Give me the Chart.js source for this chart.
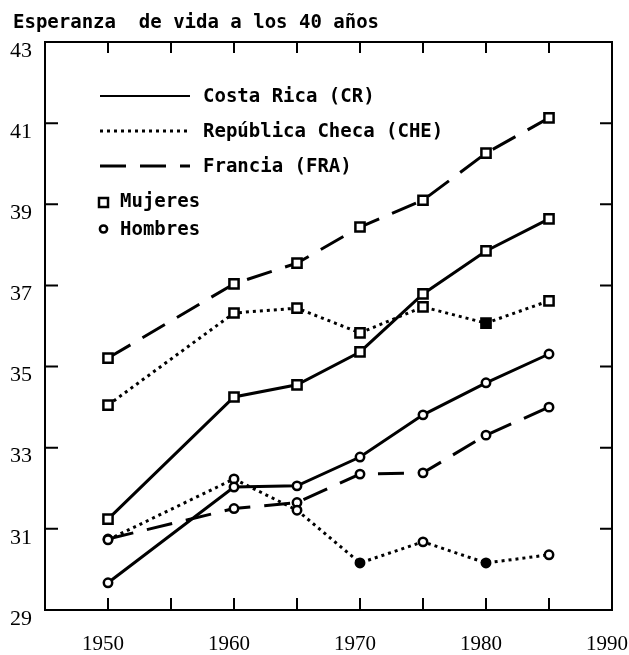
<!DOCTYPE html>
<html>
<head>
<meta charset="utf-8">
<script src="https://cdn.jsdelivr.net/npm/chart.js@4"></script>
<style>
  body { margin: 0; background: #fff; }
  #wrap { width: 629px; height: 655px; position: relative; }
</style>
</head>
<body>
<div id="wrap"><canvas id="grafica"></canvas></div>
<script>
// Esperanza de vida a los 40 años, por sexo
const anios = [1950, 1960, 1965, 1970, 1975, 1980, 1985]
const crMujeres = [31.24, 34.25, 34.55, 35.36, 36.79, 37.85, 38.64]
const crHombres = [29.67, 32.03, 32.06, 32.77, 33.81, 34.60, 35.31]
const cheMujeres = [34.05, 36.32, 36.44, 35.83, 36.47, 36.07, 36.62]
const cheHombres = [30.73, 32.23, 31.46, 30.16, 30.68, 30.16, 30.36]
const fraMujeres = [35.21, 37.04, 37.55, 38.44, 39.10, 40.26, 41.13]
const fraHombres = [30.75, 31.50, 31.65, 32.35, 32.38, 33.31, 34.00]

const ticksX = [1950, 1960, 1970, 1980, 1990]
const ticksY = [29, 31, 33, 35, 37, 39, 41, 43]
const marcasX = [1950, 1955, 1960, 1965, 1970, 1975, 1980, 1985]

const titulo = 'Esperanza  de vida a los 40 años'
const paises = ['Costa Rica (CR)', 'República Checa (CHE)', 'Francia (FRA)']
const sexos = ['Mujeres', 'Hombres']

const MONO = '"DejaVu Sans Mono", monospace'
const SERIF = '"Liberation Serif", "DejaVu Serif", serif'

const puntos = vals => vals.map((v, i) => ({x: anios[i], y: v}))

function serie(vals, dash, forma, rellenos) {
    return {
        data: puntos(vals),
        borderColor: '#000',
        borderWidth: 3,
        borderDash: dash,
        borderCapStyle: 'butt',
        tension: 0,
        pointStyle: forma,
        pointRadius: forma === 'rect' ? 6.5 : 4.2,
        pointBorderWidth: 2.5,
        pointBorderColor: '#000',
        pointBackgroundColor: rellenos || '#fff',
        pointHoverRadius: 5
    }
}

// caja, marcas hacia adentro, titulo y leyenda
const extras = {
    id: 'extras',
    afterDraw(chart) {
        const ctx = chart.ctx
        const a = chart.chartArea
        const sx = chart.scales.x
        const sy = chart.scales.y
        ctx.save()
        ctx.strokeStyle = '#000'
        ctx.lineWidth = 2
        ctx.setLineDash([])
        ctx.strokeRect(a.left, a.top, a.right - a.left, a.bottom - a.top)
        ctx.beginPath()
        marcasX.forEach(v => {
            const px = sx.getPixelForValue(v)
            ctx.moveTo(px, a.bottom); ctx.lineTo(px, a.bottom - 12)
            ctx.moveTo(px, a.top); ctx.lineTo(px, a.top + 11)
        })
        ticksY.slice(1, -1).forEach(v => {
            const py = sy.getPixelForValue(v)
            ctx.moveTo(a.left, py); ctx.lineTo(a.left + 13, py)
            ctx.moveTo(a.right, py); ctx.lineTo(a.right - 12, py)
        })
        ctx.stroke()

        ctx.fillStyle = '#000'
        ctx.font = 'bold 19px ' + MONO
        ctx.textAlign = 'left'
        ctx.textBaseline = 'alphabetic'
        ctx.fillText(titulo, 13, 28)

        // leyenda de paises
        const dashes = [[], [3, 4], [26, 14]]
        const filas = [102, 137, 172]
        paises.forEach((t, i) => {
            ctx.beginPath()
            ctx.lineWidth = i === 0 ? 2 : 3
            ctx.setLineDash(dashes[i])
            ctx.moveTo(100, filas[i] - 6)
            ctx.lineTo(190, filas[i] - 6)
            ctx.stroke()
            ctx.setLineDash([])
            ctx.fillText(t, 203, filas[i])
        })
        // leyenda de sexos
        ctx.lineWidth = 2.5
        ctx.fillStyle = '#fff'
        ctx.fillRect(99, 198, 9, 9)
        ctx.strokeRect(99, 198, 9, 9)
        ctx.beginPath()
        ctx.arc(103.5, 229, 3.6, 0, Math.PI * 2)
        ctx.fill()
        ctx.stroke()
        ctx.fillStyle = '#000'
        ctx.fillText(sexos[0], 120, 207)
        ctx.fillText(sexos[1], 120, 235)
        ctx.restore()
    }
}

new Chart(document.getElementById('grafica'), {
    type: 'line',
    data: {
        datasets: [
            serie(crMujeres, [], 'rect'),
            serie(crHombres, [], 'circle'),
            serie(cheMujeres, [3, 4], 'rect', ['#fff', '#fff', '#fff', '#fff', '#fff', '#000', '#fff']),
            serie(cheHombres, [3, 4], 'circle', ['#fff', '#fff', '#fff', '#000', '#fff', '#000', '#fff']),
            serie(fraMujeres, [26, 14], 'rect'),
            serie(fraHombres, [26, 14], 'circle')
        ]
    },
    options: {
        responsive: true,
        maintainAspectRatio: false,
        animation: false,
        layout: {padding: {top: 42, right: 17, left: 0, bottom: 0}},
        plugins: {
            legend: {display: false},
            title: {display: false},
            tooltip: {enabled: false}
        },
        scales: {
            x: {
                type: 'linear',
                min: 1945,
                max: 1990,
                afterBuildTicks: s => { s.ticks = ticksX.map(v => ({value: v})) },
                afterFit: s => { s.height = 45; s.paddingLeft = 0; s.paddingRight = 0 },
                grid: {display: false, drawTicks: false},
                border: {display: false},
                ticks: {
                    color: '#000',
                    font: {family: SERIF, size: 21},
                    padding: 22,
                    labelOffset: -5,
                    maxRotation: 0,
                    autoSkip: false,
                    callback: v => String(v)
                }
            },
            y: {
                min: 29,
                max: 43,
                afterBuildTicks: s => { s.ticks = ticksY.map(v => ({value: v})) },
                afterFit: s => { s.width = 45; s.paddingTop = 0; s.paddingBottom = 0 },
                grid: {display: false, drawTicks: false},
                border: {display: false},
                ticks: {
                    color: '#000',
                    font: {family: SERIF, size: 22},
                    padding: 13,
                    labelOffset: 9,
                    autoSkip: false,
                    callback: v => String(v)
                }
            }
        }
    },
    plugins: [extras]
});
</script>
</body>
</html>
